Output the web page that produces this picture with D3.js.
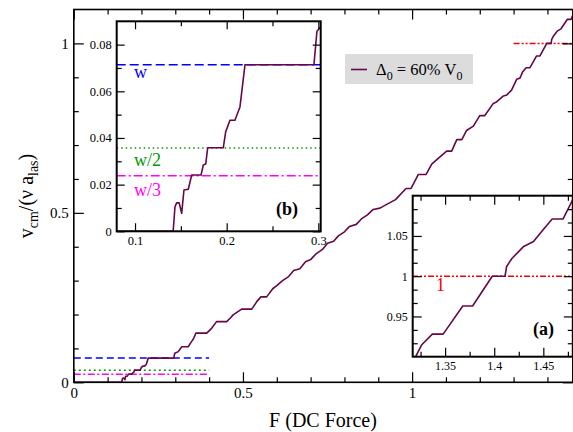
<!DOCTYPE html>
<html>
<head>
<meta charset="utf-8">
<script src="https://cdn.jsdelivr.net/npm/d3@7"></script>
<style>
  body { margin: 0; background: #fff; }
  svg { display: block; }
  svg text { font-family: "Liberation Serif", "Times New Roman", Tinos, Times, "DejaVu Serif", serif !important; fill: #000; }
</style>
</head>
<body>
<svg id="chart" width="573" height="432"></svg>
<script>
// Driving force F (DC force) and centre-of-mass velocity v_cm/(nu a_las)
const forceValues = [
  0, 0.1416, 0.1436, 0.1454, 0.1482, 0.1509, 0.1534, 0.1581, 0.1618, 0.172,
  0.1745, 0.1771, 0.1793, 0.1963, 0.1989, 0.2036, 0.209, 0.2145, 0.22, 0.2952,
  0.2985, 0.309, 0.319, 0.338, 0.348, 0.353, 0.361, 0.393, 0.408, 0.422,
  0.452, 0.462, 0.471, 0.496, 0.526, 0.541, 0.553, 0.570, 0.588, 0.600,
  0.617, 0.635, 0.650, 0.668, 0.685, 0.700, 0.715, 0.735, 0.750, 0.768,
  0.782, 0.800, 0.815, 0.835, 0.850, 0.868, 0.885, 0.905, 0.925, 0.951,
  0.982, 0.997, 1.018, 1.041, 1.058, 1.073, 1.102, 1.117, 1.132, 1.147,
  1.161, 1.181, 1.200, 1.215, 1.240, 1.248, 1.270, 1.280, 1.294, 1.309,
  1.318, 1.320, 1.326, 1.337, 1.348, 1.368, 1.378, 1.398, 1.411, 1.4126,
  1.418, 1.430, 1.440, 1.450, 1.459, 1.470, 1.480
];
const velocityValues = [
  0, 0, 0.0105, 0.0122, 0.0122, 0.0077, 0.0177, 0.018, 0.0241, 0.0241,
  0.0284, 0.0288, 0.0358, 0.0358, 0.0426, 0.0476, 0.0476, 0.0533, 0.0714, 0.0714,
  0.0857, 0.0905, 0.105, 0.105, 0.120, 0.127, 0.145, 0.145, 0.160, 0.179,
  0.179, 0.189, 0.199, 0.216, 0.216, 0.238, 0.252, 0.252, 0.276, 0.285,
  0.300, 0.312, 0.330, 0.335, 0.356, 0.362, 0.378, 0.392, 0.410, 0.416,
  0.432, 0.444, 0.460, 0.466, 0.482, 0.494, 0.510, 0.514, 0.525, 0.539,
  0.572, 0.572, 0.613, 0.613, 0.644, 0.657, 0.682, 0.682, 0.716, 0.716,
  0.743, 0.756, 0.787, 0.787, 0.823, 0.826, 0.845, 0.848, 0.862, 0.894,
  0.897, 0.900, 0.9145, 0.928, 0.928, 0.963, 0.963, 1.0, 1.0, 1.012,
  1.022, 1.037, 1.043, 1.058, 1.071, 1.071, 1.095
];

// Resonance levels: w, w/2, w/3 and the unit level
const levelValues = [0.0714, 0.0357, 0.0238];
const levelNames = ["w", "w/2", "w/3"];
const levelColors = ["#0000ff", "#009a00", "#ff00ff"];
const levelDashes = [[7, 4], [2, 3], [7, 2.5, 2, 2.5]];
const levelDashesInset = [[9, 4], [1.5, 3], [9, 3, 2, 3]];
const levelSpan = [0, 0.4];
const unitValue = 1;
const unitSpan = [1.3, 1.475];

// Tick values
const mainXMajor = [0, 0.5, 1];
const mainXMinor = [0.1, 0.2, 0.3, 0.4, 0.6, 0.7, 0.8, 0.9, 1.1, 1.2, 1.3, 1.4];
const mainYMajor = [0, 0.5, 1];
const mainYMinor = [0.1, 0.2, 0.3, 0.4, 0.6, 0.7, 0.8, 0.9];
const insetBXMajor = [0.1, 0.2, 0.3];
const insetBXMinor = [0.15, 0.25];
const insetBYMajor = [0, 0.02, 0.04, 0.06, 0.08];
const insetBYMinor = [0.01, 0.03, 0.05, 0.07];
const insetAXMajor = [1.35, 1.4, 1.45];
const insetAXMinor = [1.325, 1.375, 1.425, 1.475];
const insetAYMajor = [0.95, 1, 1.05];
const insetAYMinor = [0.9167, 0.9333, 0.9667, 0.9833, 1.0167, 1.0333, 1.0667, 1.0833];

const curveColor = "#670748";
const serif = '"Liberation Serif", "Times New Roman", Tinos, Times, "DejaVu Serif", serif';
const points = forceValues.map((f, i) => [f, velocityValues[i]]);

const svg = d3.select("#chart").attr("font-family", serif);
svg.append("rect").attr("width", 573).attr("height", 432).attr("fill", "#fff");

let clipCount = 0;
function panel(x, y, cfg) {
  const [x0, x1] = x.range();
  const [y0, y1] = y.range();
  const g = svg.append("g");
  if (cfg.background) {
    g.append("rect").attr("x", x0).attr("y", y1).attr("width", x1 - x0).attr("height", y0 - y1).attr("fill", "#fff");
  }
  const id = "clip" + (clipCount++);
  svg.append("defs").append("clipPath").attr("id", id)
    .append("rect").attr("x", x0).attr("y", y1).attr("width", x1 - x0).attr("height", y0 - y1);
  const plot = g.append("g").attr("clip-path", `url(#${id})`);
  return { g, plot };
}

function drawAxes(g, x, y, cfg) {
  const [x0, x1] = x.range();
  const [y0, y1] = y.range();
  const fmt = d3.format("");
  const style = sel => {
    sel.attr("font-family", serif);
    sel.select(".domain").remove();
    sel.selectAll("line").attr("stroke", "#000").attr("stroke-width", cfg.tickWidth);
    sel.selectAll("text").attr("fill", "#000").style("font-size", cfg.fontSize + "px")
      .attr("font-family", serif);
  };
  // bottom
  g.append("g").attr("transform", `translate(0,${y0})`)
    .call(d3.axisBottom(x).tickValues(cfg.xMajor).tickSize(-cfg.major).tickPadding(cfg.xPad).tickFormat(fmt)).call(style);
  g.append("g").attr("transform", `translate(0,${y0})`)
    .call(d3.axisBottom(x).tickValues(cfg.xMinor).tickSize(-cfg.minor).tickFormat("")).call(style);
  // top
  g.append("g").attr("transform", `translate(0,${y1})`)
    .call(d3.axisTop(x).tickValues(cfg.xMajor).tickSize(-cfg.major).tickFormat("")).call(style);
  g.append("g").attr("transform", `translate(0,${y1})`)
    .call(d3.axisTop(x).tickValues(cfg.xMinor).tickSize(-cfg.minor).tickFormat("")).call(style);
  // left
  g.append("g").attr("transform", `translate(${x0},0)`)
    .call(d3.axisLeft(y).tickValues(cfg.yMajor).tickSize(-cfg.major).tickPadding(cfg.yPad).tickFormat(fmt)).call(style);
  g.append("g").attr("transform", `translate(${x0},0)`)
    .call(d3.axisLeft(y).tickValues(cfg.yMinor).tickSize(-cfg.minor).tickFormat("")).call(style);
  // right
  g.append("g").attr("transform", `translate(${x1},0)`)
    .call(d3.axisRight(y).tickValues(cfg.yMajor).tickSize(-cfg.major).tickFormat("")).call(style);
  g.append("g").attr("transform", `translate(${x1},0)`)
    .call(d3.axisRight(y).tickValues(cfg.yMinor).tickSize(-cfg.minor).tickFormat("")).call(style);
  // frame
  g.append("rect").attr("x", x0).attr("y", y1).attr("width", x1 - x0).attr("height", y0 - y1)
    .attr("fill", "none").attr("stroke", "#000").attr("stroke-width", cfg.frameWidth);
}

function drawCurve(plot, x, y, width) {
  const line = d3.line().x(d => x(d[0])).y(d => y(d[1]));
  plot.append("path").datum(points).attr("d", line)
    .attr("fill", "none").attr("stroke", curveColor).attr("stroke-width", width)
    .attr("stroke-linejoin", "round");
}

function hline(plot, x, y, value, span, color, dash, width) {
  plot.append("line")
    .attr("x1", x(span[0])).attr("x2", x(span[1]))
    .attr("y1", y(value)).attr("y2", y(value))
    .attr("stroke", color).attr("stroke-width", width)
    .attr("stroke-dasharray", dash.join(","));
}

// ---------- main panel ----------
const xMain = d3.scaleLinear().domain([0, 1.475]).range([73.8, 572.8]);
const yMain = d3.scaleLinear().domain([0, 1.1]).range([382.3, 9.5]);
const main = panel(xMain, yMain, {});
levelValues.forEach((v, i) => hline(main.plot, xMain, yMain, v, levelSpan, levelColors[i], levelDashes[i], 1.5));
hline(main.plot, xMain, yMain, unitValue, unitSpan, "#ff0000", [6, 2, 2, 2, 2, 2], 1.5);
drawCurve(main.plot, xMain, yMain, 1.6);
drawAxes(main.g, xMain, yMain, {
  xMajor: mainXMajor, xMinor: mainXMinor, yMajor: mainYMajor, yMinor: mainYMinor,
  major: 10, minor: 5, xPad: 5, yPad: 5, fontSize: 15, tickWidth: 1.2, frameWidth: 1.6
});

// ---------- inset (b): low-force region ----------
const xB = d3.scaleLinear().domain([0.08, 0.3026]).range([116.7, 320.7]);
const yB = d3.scaleLinear().domain([0, 0.09]).range([231.3, 21.3]);
const insetB = panel(xB, yB, { background: true });
levelValues.forEach((v, i) => hline(insetB.plot, xB, yB, v, [0.08, 0.31], levelColors[i], levelDashesInset[i], 1.5));
drawCurve(insetB.plot, xB, yB, 1.6);
drawAxes(insetB.g, xB, yB, {
  xMajor: insetBXMajor, xMinor: insetBXMinor, yMajor: insetBYMajor, yMinor: insetBYMinor,
  major: 8, minor: 5, xPad: 5, yPad: 5, fontSize: 12.5, tickWidth: 1.2, frameWidth: 2
});
const levelLabelY = [78, 166, 196];
levelNames.forEach((name, i) => {
  insetB.g.append("text").attr("x", 134).attr("y", levelLabelY[i])
    .style("font-size", "18px").style("fill", levelColors[i]).text(name);
});
insetB.g.append("text").attr("x", 276).attr("y", 215).style("font-size", "18px")
  .style("font-weight", "bold").text("(b)");

// ---------- inset (a): around the unit step ----------
const xA = d3.scaleLinear().domain([1.317, 1.48]).range([412.7, 572.8]);
const yA = d3.scaleLinear().domain([0.9, 1.1]).range([356.7, 195.7]);
const insetA = panel(xA, yA, { background: true });
hline(insetA.plot, xA, yA, unitValue, [1.3, 1.5], "#ff0000", [6, 2, 2, 2, 2, 2], 1.5);
drawCurve(insetA.plot, xA, yA, 1.6);
drawAxes(insetA.g, xA, yA, {
  xMajor: insetAXMajor, xMinor: insetAXMinor, yMajor: insetAYMajor, yMinor: insetAYMinor,
  major: 9, minor: 5, xPad: 5, yPad: 5, fontSize: 12, tickWidth: 1.2, frameWidth: 2
});
insetA.g.append("text").attr("x", 436).attr("y", 291).style("font-size", "18px")
  .style("fill", "#ff0000").text(String(unitValue));
insetA.g.append("text").attr("x", 533).attr("y", 335).style("font-size", "18px")
  .style("font-weight", "bold").text("(a)");

// ---------- legend ----------
const legend = svg.append("g");
legend.append("rect").attr("x", 345).attr("y", 54).attr("width", 128).attr("height", 30).attr("fill", "#dcdcdc");
legend.append("line").attr("x1", 351).attr("x2", 367).attr("y1", 69.5).attr("y2", 69.5)
  .attr("stroke", curveColor).attr("stroke-width", 1.6);
const lt = legend.append("text").attr("x", 376).attr("y", 75).style("font-size", "16.5px");
lt.append("tspan").text("\u0394");
lt.append("tspan").attr("dy", 5).style("font-size", "12px").text("0");
lt.append("tspan").attr("dy", -5).text(" = 60% V");
lt.append("tspan").attr("dy", 5).style("font-size", "12px").text("0");

// ---------- axis titles ----------
svg.append("text").attr("x", 323).attr("y", 427).attr("text-anchor", "middle")
  .style("font-size", "20px").text("F (DC Force)");
const yt = svg.append("text").attr("transform", "translate(33,196) rotate(-90)")
  .attr("text-anchor", "middle").style("font-size", "20px");
yt.append("tspan").text("v");
yt.append("tspan").attr("dy", 5).style("font-size", "14px").text("cm");
yt.append("tspan").attr("dy", -5).text("/(\u03bd a");
yt.append("tspan").attr("dy", 5).style("font-size", "14px").text("las");
yt.append("tspan").attr("dy", -5).text(")");
</script>
</body>
</html>
